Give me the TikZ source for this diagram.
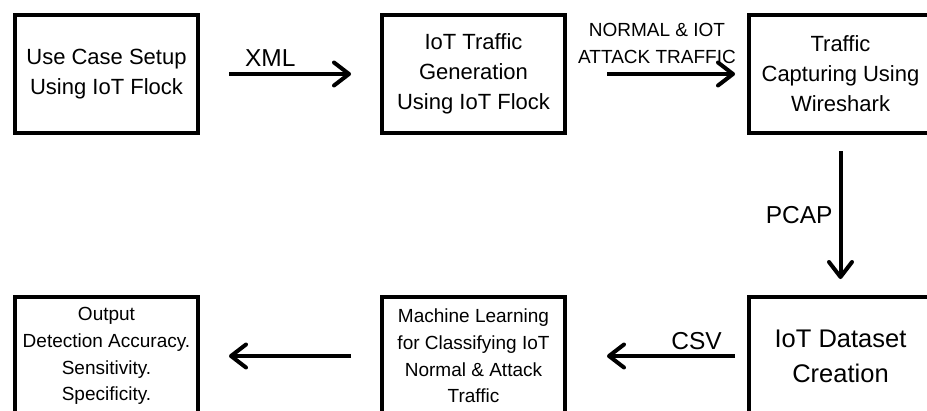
\documentclass[tikz,border=0pt]{standalone}
\usepackage{fontspec}
\setmainfont{Liberation Sans}
\usepackage{tikz}
\usetikzlibrary{arrows.meta}
\tikzstyle{block}=[rectangle,
                   draw=black,
                   line width=4pt,
                   minimum width=183pt,
                   minimum height=118pt,
                   inner sep=0pt,
                   align=center,
                   font=\fontsize{22}{30}\selectfont
                   ]
\tikzstyle{flow}=[line width=4pt,
                  -{Straight Barb[length=15pt,width=23pt,round]}
                  ]
\tikzstyle{tag}=[inner sep=0pt,
                 font=\fontsize{24.5}{30}\selectfont]

\begin{document}
\begin{tikzpicture}[node distance=367pt,auto]
\useasboundingbox (0pt,0pt) rectangle (927pt,-410pt);
\node (setup) [block] at (106.5pt,-74pt) {Use Case Setup\\ Using IoT Flock};
\node (gen)   [block,right of=setup] {IoT Traffic\\Generation\\Using IoT Flock};
\node (cap)   [block,right of=gen] {Traffic\\Capturing Using\\Wireshark};
\node (data)  [block,below of=cap,node distance=282pt,
               font=\fontsize{25.5}{35}\selectfont] {IoT Dataset\\Creation};
\node (ml)    [block,left of=data,font=\fontsize{19}{26.7}\selectfont]
              {Machine Learning\\for Classifying IoT\\Normal \& Attack\\Traffic};
\node (out)   [block,left of=ml,font=\fontsize{19}{26.7}\selectfont]
              {Output\\Detection Accuracy.\\Sensitivity.\\Specificity.};
 \path[flow] (setup) edge[shorten <=29pt,shorten >=29pt]
   node[tag,above=6pt,pos=0.39] (xml) {XML} (gen);
 \path[flow] (gen) edge[shorten <=40pt,shorten >=12pt]
   node[tag,above=8pt,pos=0.5,align=center,font=\fontsize{19}{27}\selectfont] (mix)
   {NORMAL \& IOT\\ATTACK TRAFFIC} (cap);
 \path[flow] (cap) edge[shorten <=16pt,shorten >=16pt]
   node[tag,left=6pt,pos=0.5] (pcap) {PCAP} (data);
 \path[flow] (data) edge[shorten <=12pt,shorten >=40pt]
   node[tag,above=4pt,pos=0.28] (csv) {CSV} (ml);
 \path[flow] (ml) edge[shorten <=29pt,shorten >=29pt] (out);
\end{tikzpicture}
\end{document}
